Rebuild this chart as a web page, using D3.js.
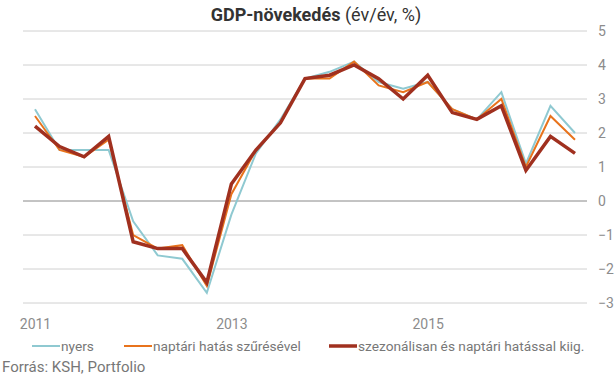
<!DOCTYPE html>
<html>
<head>
<meta charset="utf-8">
<script src="https://cdn.jsdelivr.net/npm/d3@7"></script>
<style>
  body { margin: 0; background: #fff; }
  svg { display: block; font-family: Roboto, "Noto Sans", sans-serif; }
</style>
</head>
<body>
<div id="chart"></div>
<script>
// negyedévek 2011Q1 - 2016Q3
const quarters = [];
for (let y = 2011; y <= 2016; y++) {
  for (let q = 1; q <= 4; q++) {
    if (y === 2016 && q === 4) break;
    quarters.push(y + "Q" + q);
  }
}

const nyers = [2.7, 1.5, 1.5, 1.5, -0.6, -1.6, -1.7, -2.7, -0.4, 1.4, 2.4, 3.6, 3.8, 4.1, 3.5, 3.3, 3.5, 2.7, 2.4, 3.2, 1.1, 2.8, 2.0];
const naptari = [2.5, 1.5, 1.3, 1.8, -1.0, -1.4, -1.3, -2.5, 0.2, 1.5, 2.3, 3.6, 3.6, 4.1, 3.4, 3.2, 3.5, 2.7, 2.4, 3.0, 1.0, 2.5, 1.8];
const szezonalis = [2.2, 1.6, 1.3, 1.9, -1.2, -1.4, -1.4, -2.4, 0.5, 1.5, 2.3, 3.6, 3.7, 4.0, 3.6, 3.0, 3.7, 2.6, 2.4, 2.8, 0.9, 1.9, 1.4];

const yTicks = [-3, -2, -1, 0, 1, 2, 3, 4, 5];
const xLabels = ["2011Q1", "2013Q1", "2015Q1"];

const series = [
  { name: "nyers", values: nyers, color: "#8fc9d1", width: 2 },
  { name: "naptári hatás szűrésével", values: naptari, color: "#e8731c", width: 2 },
  { name: "szezonálisan és naptári hatással kiig.", values: szezonalis, color: "#a0301f", width: 3.5 }
];

const width = 616, height = 378;

const svg = d3.select("#chart").append("svg")
  .attr("width", width)
  .attr("height", height);

const x = d3.scalePoint().domain(quarters).range([35, 575]);
const y = d3.scaleLinear().domain([-3, 5]).range([303, 31]);

// cím
const title = svg.append("text")
  .attr("x", 316)
  .attr("y", 21)
  .attr("text-anchor", "middle")
  .attr("fill", "#333")
  .style("font-size", "18px");
title.append("tspan").attr("font-weight", "bold").text("GDP-növekedés");
title.append("tspan").text(" (év/év, %)");

// rácsvonalak + jobb oldali tengely
const yAxis = svg.append("g")
  .attr("transform", "translate(587,0)")
  .call(d3.axisRight(y).tickValues(yTicks).tickSize(0).tickPadding(11).tickFormat(d3.format("d")));
yAxis.select(".domain").remove();
yAxis.selectAll("text").attr("fill", "#8c8c8c").style("font-size", "14px").style("font-family", "Roboto, sans-serif");

svg.append("g").selectAll("line")
  .data(yTicks)
  .join("line")
  .attr("x1", 23).attr("x2", 587)
  .attr("y1", d => y(d)).attr("y2", d => y(d))
  .attr("stroke", d => d === 0 ? "#888" : "#d0d0d0")
  .attr("stroke-width", 1);

// x tengely
const xAxis = svg.append("g")
  .attr("transform", "translate(0,316)")
  .call(d3.axisBottom(x).tickValues(xLabels).tickSize(0).tickFormat(d => d.slice(0, 4)));
xAxis.select(".domain").remove();
xAxis.selectAll("text").attr("fill", "#8c8c8c").style("font-size", "14px").style("font-family", "Roboto, sans-serif");

// vonalak
const line = d3.line()
  .x((d, i) => x(quarters[i]))
  .y(d => y(d));

svg.append("g").selectAll("path")
  .data(series)
  .join("path")
  .attr("d", d => line(d.values))
  .attr("fill", "none")
  .attr("stroke", d => d.color)
  .attr("stroke-width", d => d.width)
  .attr("stroke-linejoin", "miter");

// jelmagyarázat
const legendX = [32, 124, 329];
const legend = svg.append("g").selectAll("g")
  .data(series)
  .join("g")
  .attr("transform", (d, i) => "translate(" + legendX[i] + ",346)");
legend.append("line")
  .attr("x1", 0).attr("x2", 28)
  .attr("stroke", d => d.color)
  .attr("stroke-width", d => d.width);
legend.append("text")
  .attr("x", 29)
  .attr("dy", "0.35em")
  .attr("fill", "#777")
  .style("font-size", "13.7px")
  .text(d => d.name);

// forrás
svg.append("text")
  .attr("x", 2)
  .attr("y", 372)
  .attr("fill", "#777")
  .style("font-size", "15px")
  .text("Forrás: KSH, Portfolio");
</script>
</body>
</html>
